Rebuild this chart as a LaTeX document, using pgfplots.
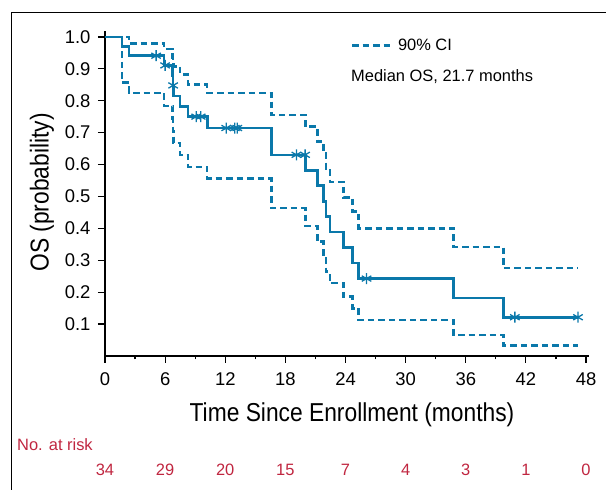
\documentclass[border=0pt]{standalone}
\usepackage{fontspec}
\setmainfont{Liberation Sans}
\newfontfamily\condfont[FakeStretch=0.88]{Liberation Sans}
\usepackage{pgfplots}
\pgfplotsset{compat=1.18}
\definecolor{kmblue}{RGB}{10,120,170}
\definecolor{riskred}{RGB}{192,38,64}

\pgfplotstableread{
t S
0 1.0
1.7 0.9706
2.4 0.9412
5.9 0.9108
6.75 0.8794
6.78 0.8480
6.82 0.8154
7.5 0.7828
8.3 0.7502
10.2 0.7145
16.6 0.6304
20.0 0.5819
21.2 0.5334
21.8 0.4849
22.05 0.4364
22.45 0.3879
23.8 0.3394
24.7 0.2909
25.3 0.2424
34.8 0.1818
39.75 0.1212
47.2 0.1212
}\kmtable

\pgfplotstableread{
t S
5.1 0.9412
6.0 0.9108
6.8 0.8480
9.1 0.7502
9.55 0.7502
12.1 0.7145
12.95 0.7145
13.2 0.7145
19.1 0.6304
19.97 0.6304
26.1 0.2424
40.9 0.1212
47.2 0.1212
}\censtable

\pgfplotstableread{
t S
0 1.0
2.4 0.980
5.9 0.962
6.75 0.935
6.78 0.922
6.82 0.908
7.5 0.882
8.3 0.851
10.2 0.825
16.6 0.755
20.0 0.719
21.2 0.672
21.8 0.640
22.05 0.588
22.45 0.546
23.8 0.496
24.7 0.452
25.3 0.400
34.8 0.342
39.75 0.275
47.2 0.275
}\uptable

\pgfplotstableread{
t S
0 1.0
1.7 0.857
2.4 0.825
5.9 0.784
6.75 0.745
6.78 0.705
6.82 0.668
7.5 0.630
8.3 0.593
10.2 0.557
16.6 0.463
20.0 0.407
21.2 0.358
21.8 0.311
22.05 0.264
22.45 0.228
23.8 0.186
24.7 0.149
25.3 0.112
34.8 0.066
39.75 0.032
47.2 0.032
}\lotable

\begin{document}
\begin{tikzpicture}[x=1bp,y=1bp]
\useasboundingbox (0,0) rectangle (606,490);
\draw[line width=1bp] (11,0) -- (11,477) -- (606,477);
\begin{axis}[
  at={(105bp,134.1bp)}, anchor=south west,
  scale only axis, width=484bp, height=325.3bp,
  xmin=0, xmax=48.3, ymin=0, ymax=1.02,
  axis lines=left,
  axis line style={-, line width=2bp, black},
  xtick={0,6,...,48},
  minor xtick={3,9,...,45},
  ytick={0.1,0.2,0.3,0.4,0.5,0.6,0.7,0.8,0.9,1.0},
  tick align=outside,
  major tick length=7bp, minor tick length=3.5bp,
  every tick/.style={black, line width=1.2bp},
  /pgf/number format/assume math mode=true,
  tick label style={font=\fontsize{18.5}{21}\selectfont},
  yticklabel style={xshift=-4bp, /pgf/number format/.cd, fixed, fixed zerofill, precision=1},
  xticklabel style={yshift=-6bp, /pgf/number format/fixed},
  clip=false,
  legend style={at={(axis cs:24.52,0.973)}, anchor=west, draw=none, fill=none,
    inner sep=0pt, font=\fontsize{16.5}{19}\selectfont, legend cell align=left},
  legend image code/.code={\draw[dash pattern=on 6.5bp off 4bp] (0bp,0bp) -- (37.6bp,0bp);},
  legend style={column sep=0pt, nodes={inner xsep=4bp}},
]
\addplot[const plot, kmblue, line width=2.5bp, dash pattern=on 6.5bp off 4bp] table[x=t,y=S]{\uptable};
\addlegendentry{\hspace{3bp}90\% CI}
\addplot[const plot, kmblue, line width=2.5bp, dash pattern=on 6.5bp off 4bp, forget plot] table[x=t,y=S]{\lotable};
\addplot[const plot, kmblue, line width=2.6bp, forget plot] table[x=t,y=S]{\kmtable};
\addplot[only marks, kmblue, mark=asterisk, mark size=5.5bp, mark options={line width=1.3bp}, forget plot] table[x=t,y=S]{\censtable};
\end{axis}
\node[anchor=base west, font=\fontsize{16.5}{19}\selectfont, inner sep=0pt] at (351,408.3) {Median OS, 21.7 months};
\node[rotate=90, font=\condfont\fontsize{26}{30}\selectfont] at (42,297.5) {OS (probability)};
\node[anchor=base, font=\condfont\fontsize{26}{30}\selectfont] at (352,68.3) {Time Since Enrollment (months)};
\node[anchor=base west, text=riskred, font=\fontsize{16.5}{19}\selectfont, inner sep=0pt] at (17,39.3) {No. at risk};
\foreach \xx/\nn in {0/34,6/29,12/20,18/15,24/7,30/4,36/3,42/1,48/0}{
  \node[anchor=base, text=riskred, font=\fontsize{16.5}{19}\selectfont] at ({105+10.02*\xx},14) {\nn};
}
\end{tikzpicture}
\end{document}
